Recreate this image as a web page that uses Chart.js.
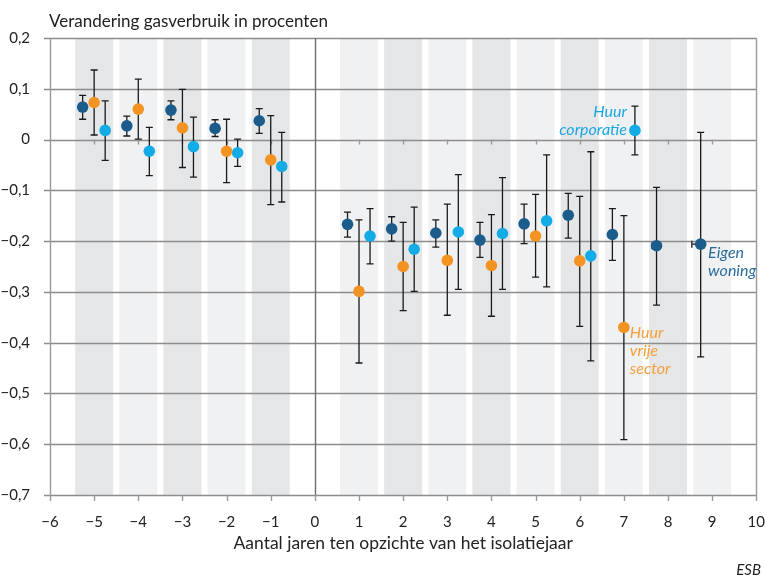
<!DOCTYPE html>
<html>
<head>
<meta charset="utf-8">
<script src="https://cdn.jsdelivr.net/npm/chart.js@4"></script>
<style>
  html, body { margin: 0; padding: 0; background: #fff; overflow: hidden; }
  #chart { position: absolute; left: 0; top: 0; }
</style>
</head>
<body>
<canvas id="chart" width="775" height="582"></canvas>
<script>
// years relative to the insulation year
const yearsBefore = [-5, -4, -3, -2, -1];
const yearsAfter = [1, 2, 3, 4, 5, 6, 7, 8, 9];
const eigenYears = [-5, -4, -3, -2, -1, 1, 2, 3, 4, 5, 6, 7, 8, 9];
const huurYears = [-5, -4, -3, -2, -1, 1, 2, 3, 4, 5, 6, 7];

// Eigen woning (dark blue)
const eigenVal  = [0.064, 0.027, 0.058, 0.022, 0.037, -0.167, -0.176, -0.184, -0.198, -0.166, -0.149, -0.187, -0.209, -0.206];
const eigenLow  = [0.040, 0.007, 0.039, 0.006, 0.012, -0.192, -0.200, -0.212, -0.232, -0.205, -0.194, -0.238, -0.326, -0.428];
const eigenHigh = [0.087, 0.046, 0.076, 0.039, 0.061, -0.143, -0.152, -0.158, -0.163, -0.127, -0.106, -0.136, -0.094, 0.014];
const eigenXErr = [0, 0, 0, 0, 0, 0, 0, 0, 0, 0, 0, 0, 0.1, 0.2];

// Huur vrije sector (orange)
const vrijeVal  = [0.073, 0.060, 0.023, -0.023, -0.040, -0.299, -0.250, -0.238, -0.248, -0.190, -0.239, -0.370];
const vrijeLow  = [0.009, 0.001, -0.055, -0.085, -0.128, -0.440, -0.337, -0.346, -0.348, -0.271, -0.368, -0.591];
const vrijeHigh = [0.137, 0.119, 0.099, 0.040, 0.047, -0.158, -0.163, -0.127, -0.148, -0.108, -0.112, -0.150];

// Huur corporatie (light blue)
const corpVal  = [0.018, -0.023, -0.014, -0.026, -0.053, -0.190, -0.216, -0.182, -0.185, -0.160, -0.229, 0.018];
const corpLow  = [-0.041, -0.071, -0.074, -0.053, -0.123, -0.245, -0.299, -0.295, -0.295, -0.290, -0.436, -0.030];
const corpHigh = [0.076, 0.024, 0.044, 0.001, 0.014, -0.136, -0.133, -0.069, -0.075, -0.030, -0.024, 0.066];

const xTicks = [-6, -5, -4, -3, -2, -1, 0, 1, 2, 3, 4, 5, 6, 7, 8, 9, 10];
const yTicks = [0.2, 0.1, 0, -0.1, -0.2, -0.3, -0.4, -0.5, -0.6, -0.7];

const DARK = '#1b5c8a', ORANGE = '#f39322', LIGHT = '#13ace6';
const bandDark = '#e5e6e8', bandLight = '#f0f1f3';

function fmt(v) {
  const r = Math.round(v * 10) / 10;
  if (r === 0) return '0';
  return (r < 0 ? '\u2212' : '') + String(Math.abs(r)).replace('.', ',');
}

function points(years, vals, low, high, off, xErr) {
  return years.map((yr, i) => ({
    x: yr + off, y: vals[i], lo: low[i], hi: high[i], xe: xErr ? xErr[i] : 0
  }));
}

const bandPlugin = {
  id: 'bands',
  beforeDatasetsDraw(chart) {
    const { ctx, chartArea: a, scales: { x, y } } = chart;
    ctx.save();
    const all = yearsBefore.concat(yearsAfter);
    all.forEach(yr => {
      const x0 = x.getPixelForValue(yr - 0.43), x1 = x.getPixelForValue(yr + 0.43);
      ctx.fillStyle = (yr % 2 !== 0) === (yr < 0) ? bandDark : bandLight;
      ctx.fillRect(x0, a.top, x1 - x0, a.bottom - a.top);
    });
    // horizontal grid lines over the bands
    ctx.strokeStyle = '#8d8d8d';
    ctx.lineWidth = 1.4;
    yTicks.forEach(t => {
      const py = Math.round(y.getPixelForValue(t)) + 0.5;
      ctx.beginPath();
      ctx.moveTo(a.left - 6, py);
      ctx.lineTo(a.right, py);
      ctx.stroke();
    });
    // vertical lines at -6, 0, 10
    [[-6, '#9a9a9a'], [0, '#6e6e6e'], [10, '#9a9a9a']].forEach(([v, c]) => {
      const px = Math.round(x.getPixelForValue(v)) + 0.5;
      ctx.strokeStyle = c;
      ctx.beginPath();
      ctx.moveTo(px, a.top);
      ctx.lineTo(px, a.bottom);
      ctx.stroke();
    });
    // small ticks below the zero line and below the axis
    const zy = y.getPixelForValue(0);
    ctx.strokeStyle = '#9a9a9a';
    xTicks.forEach(t => {
      const px = Math.round(x.getPixelForValue(t)) + 0.5;
      if (t !== -6 && t !== 0 && t !== 10) {
        ctx.beginPath(); ctx.moveTo(px, zy); ctx.lineTo(px, zy + 5); ctx.stroke();
      }
      ctx.beginPath(); ctx.moveTo(px, a.bottom); ctx.lineTo(px, a.bottom + 6); ctx.stroke();
    });
    // error bars
    ctx.strokeStyle = '#1a1a1a';
    ctx.lineWidth = 1.3;
    chart.data.datasets.forEach(ds => {
      ds.data.forEach(p => {
        const px = x.getPixelForValue(p.x);
        const yl = y.getPixelForValue(p.lo), yh = y.getPixelForValue(p.hi);
        ctx.beginPath();
        ctx.moveTo(px, yl); ctx.lineTo(px, yh);
        ctx.moveTo(px - 3.5, yl); ctx.lineTo(px + 3.5, yl);
        ctx.moveTo(px - 3.5, yh); ctx.lineTo(px + 3.5, yh);
        if (p.xe) {
          const pl = x.getPixelForValue(p.x - p.xe), py = y.getPixelForValue(p.y);
          ctx.moveTo(pl, py); ctx.lineTo(px, py);
          ctx.moveTo(pl, py - 3.5); ctx.lineTo(pl, py + 3.5);
        }
        ctx.stroke();
      });
    });
    ctx.restore();
  },
  afterDraw(chart) {
    const { ctx, scales: { x, y } } = chart;
    ctx.save();
    ctx.fillStyle = '#222';
    ctx.font = '17px Lato';
    ctx.textAlign = 'left';
    ctx.textBaseline = 'alphabetic';
    ctx.fillText('Verandering gasverbruik in procenten', 49, 27);
    ctx.font = 'italic 15px Lato';
    ctx.textAlign = 'right';
    ctx.fillText('ESB', 761, 575);

    ctx.font = 'italic 16px Lato';
    ctx.textBaseline = 'middle';
    // Huur corporatie
    let px = x.getPixelForValue(7.25), py = y.getPixelForValue(corpVal[11]);
    ctx.fillStyle = '#1aa7e0';
    ctx.textAlign = 'right';
    ctx.fillText('Huur', px - 8, py - 19);
    ctx.fillText('corporatie', px - 8, py - 1);
    // Eigen woning
    px = x.getPixelForValue(8.75); py = y.getPixelForValue(eigenVal[13]);
    ctx.fillStyle = '#2b6c9c';
    ctx.textAlign = 'left';
    ctx.fillText('Eigen', px + 7, py + 9);
    ctx.fillText('woning', px + 7, py + 27);
    // Huur vrije sector
    px = x.getPixelForValue(7); py = y.getPixelForValue(vrijeVal[11]);
    ctx.fillStyle = '#f5a03a';
    ctx.fillText('Huur', px + 6, py + 5);
    ctx.fillText('vrije', px + 6, py + 23);
    ctx.fillText('sector', px + 6, py + 41);
    ctx.restore();
  }
};

new Chart(document.getElementById('chart'), {
  type: 'scatter',
  data: {
    datasets: [
      { label: 'Eigen woning', data: points(eigenYears, eigenVal, eigenLow, eigenHigh, -0.26, eigenXErr),
        backgroundColor: DARK, borderColor: DARK },
      { label: 'Huur vrije sector', data: points(huurYears, vrijeVal, vrijeLow, vrijeHigh, 0),
        backgroundColor: ORANGE, borderColor: ORANGE },
      { label: 'Huur corporatie', data: points(huurYears, corpVal, corpLow, corpHigh, 0.25),
        backgroundColor: LIGHT, borderColor: LIGHT }
    ]
  },
  options: {
    responsive: false,
    animation: false,
    layout: { padding: { top: 38, right: 15, left: 0, bottom: 0 } },
    elements: { point: { radius: 5.8, borderWidth: 0, hoverRadius: 5.8 } },
    plugins: { legend: { display: false }, tooltip: { enabled: false } },
    scales: {
      x: {
        type: 'linear', min: -6, max: 10,
        afterBuildTicks: s => { s.ticks = xTicks.map(v => ({ value: v })); },
        afterFit: s => { s.height = 87; },
        grid: { display: false },
        border: { display: false },
        ticks: { callback: v => fmt(v), color: '#222', font: { family: 'Lato', size: 15 }, padding: 10, maxRotation: 0 },
        title: { display: true, text: 'Aantal jaren ten opzichte van het isolatiejaar', color: '#222',
                 font: { family: 'Lato', size: 17.5 }, padding: { top: 4, bottom: 28 } }
      },
      y: {
        type: 'linear', min: -0.7, max: 0.2,
        afterBuildTicks: s => { s.ticks = yTicks.map(v => ({ value: v })); },
        afterFit: s => { s.width = 50; },
        grid: { display: false },
        border: { display: false },
        ticks: { callback: v => fmt(v), color: '#222', font: { family: 'Lato', size: 15 }, padding: 12 }
      }
    }
  },
  plugins: [bandPlugin]
});
</script>
</body>
</html>
